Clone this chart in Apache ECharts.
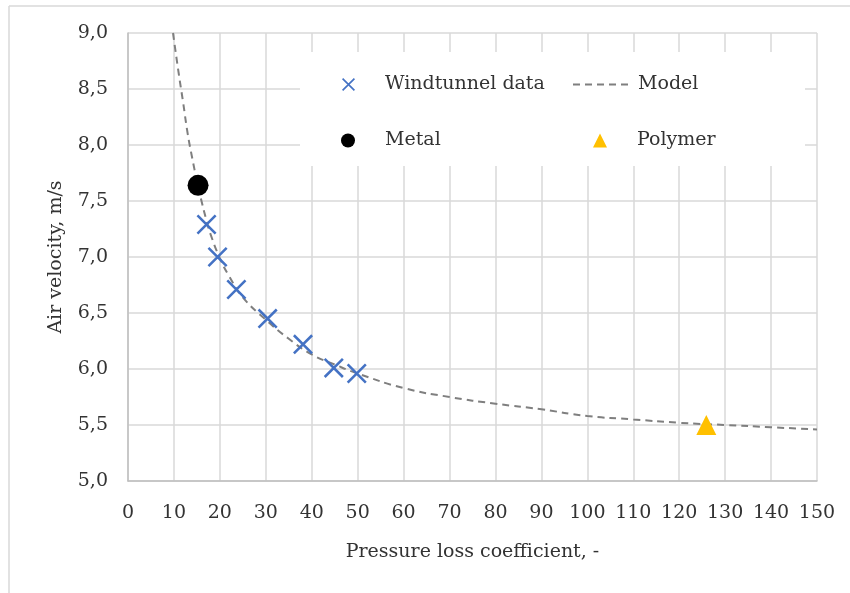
<!DOCTYPE html>
<html>
<head>
<meta charset="utf-8">
<title>Air velocity vs pressure loss coefficient</title>
<script src="https://cdn.jsdelivr.net/npm/echarts@6/dist/echarts.min.js"></script>
<style>
  html, body { margin: 0; padding: 0; background: #fff; }
  #main { width: 850px; height: 593px; }
</style>
</head>
<body>
<div id="main"></div>
<script>
// windtunnel measurements (x = pressure loss coefficient, y = air velocity)
var windX = [17.1, 19.5, 23.6, 30.4, 38.1, 44.8, 49.8];
var windY = [7.29, 7.00, 6.71, 6.45, 6.22, 6.01, 5.96];

// model curve
var modelX = [9.8, 11, 12, 13, 14, 15, 16, 17, 18, 20, 22, 25, 30, 35, 40, 45, 50, 60, 70, 80, 90, 100, 110, 120, 130, 140, 150];
var modelY = [9.0, 8.65, 8.38, 8.1, 7.88, 7.68, 7.5, 7.34, 7.2, 6.99, 6.83, 6.64, 6.44, 6.27, 6.13, 6.04, 5.96, 5.83, 5.75, 5.69, 5.64, 5.58, 5.55, 5.52, 5.5, 5.48, 5.46];

// single samples
var metalX = [15.25];
var metalY = [7.64];
var polymerX = [125.9];
var polymerY = [5.50];

// axis ticks
var xTicks = [0, 150, 10];
var yTicks = [5, 9, 0.5];

var legendNames = ['Windtunnel data', 'Model', 'Metal', 'Polymer'];

function pairs(xs, ys) {
  var out = [];
  for (var i = 0; i < xs.length; i++) {
    out.push([xs[i], ys[i]]);
  }
  return out;
}

var font = 'DejaVu Serif';
var textColor = '#333';
var fs = 19;
var crossPath = 'path://M0,0.9L0.9,0L10,9.1L9.1,10Z M9.1,0L10,0.9L0.9,10L0,9.1Z';

var myChart = echarts.init(document.getElementById('main'));

// one legend per item so the 2x2 layout lines up like the original
// left = icon left edge, textLeft = where the label starts
function legendAt(name, left, top, w, h, textLeft) {
  return {
    data: [name],
    left: left,
    top: top,
    padding: 0,
    itemWidth: w,
    itemHeight: h,
    selectedMode: false,
    z: 10,
    textStyle: {
      fontFamily: font, fontSize: fs, color: textColor,
      padding: [0, 0, 0, textLeft - (left + w + 5)]
    }
  };
}

var lgModel = legendAt(legendNames[1], 572, 75, 56, 14, 637);
lgModel.itemStyle = { opacity: 0 };

var option = {
  animation: false,
  backgroundColor: '#fff',
  grid: { left: 128, top: 33, right: 33, bottom: 112, containLabel: false },
  graphic: {
    elements: [
      // outer frame (top and left only)
      { type: 'line', shape: { x1: 9, y1: 6, x2: 850, y2: 6 }, style: { stroke: '#d9d9d9', lineWidth: 1.5 }, z: 1 },
      { type: 'line', shape: { x1: 9, y1: 6, x2: 9, y2: 593 }, style: { stroke: '#d9d9d9', lineWidth: 1.5 }, z: 1 },
      // white box behind the legend
      { type: 'rect', shape: { x: 300, y: 52, width: 505, height: 114 }, style: { fill: '#fff' }, z: 5 }
    ]
  },
  legend: [
    legendAt(legendNames[0], 342, 75, 13, 13, 385),
    lgModel,
    legendAt(legendNames[2], 341, 131, 14, 14, 385),
    legendAt(legendNames[3], 593, 131, 14, 14, 637)
  ],
  xAxis: {
    type: 'value',
    min: xTicks[0],
    max: xTicks[1],
    interval: xTicks[2],
    name: 'Pressure loss coefficient, -',
    nameLocation: 'middle',
    nameGap: 62,
    nameTextStyle: { fontFamily: font, fontSize: fs, color: textColor },
    axisLine: { show: true, lineStyle: { color: '#bfbfbf', width: 1.5 } },
    axisTick: { show: false },
    axisLabel: { margin: 23, fontFamily: font, fontSize: fs, color: textColor },
    splitLine: { show: true, lineStyle: { color: '#d9d9d9', width: 1.5 } }
  },
  yAxis: {
    type: 'value',
    min: yTicks[0],
    max: yTicks[1],
    interval: yTicks[2],
    name: 'Air velocity, m/s',
    nameLocation: 'middle',
    nameGap: 62,
    nameTextStyle: { fontFamily: font, fontSize: fs, color: textColor },
    axisLine: { show: true, lineStyle: { color: '#bfbfbf', width: 1.5 } },
    axisTick: { show: false },
    axisLabel: {
      margin: 20,
      fontFamily: font,
      fontSize: fs,
      color: textColor,
      formatter: function (v) { return v.toFixed(1).replace('.', ','); }
    },
    splitLine: { show: true, lineStyle: { color: '#d9d9d9', width: 1.5 } }
  },
  series: [
    {
      name: 'Model',
      type: 'line',
      data: pairs(modelX, modelY),
      smooth: true,
      showSymbol: false,
      symbol: 'none',
      z: 2,
      lineStyle: { color: '#7f7f7f', width: 2, type: [7, 5] },
      itemStyle: { color: '#7f7f7f' }
    },
    {
      name: 'Windtunnel data',
      type: 'scatter',
      data: pairs(windX, windY),
      symbol: crossPath,
      symbolSize: 20,
      z: 3,
      itemStyle: { color: '#4472c4', opacity: 1 }
    },
    {
      name: 'Metal',
      type: 'scatter',
      data: pairs(metalX, metalY),
      symbol: 'circle',
      symbolSize: 21,
      z: 3,
      itemStyle: { color: '#000', opacity: 1 }
    },
    {
      name: 'Polymer',
      type: 'scatter',
      data: pairs(polymerX, polymerY),
      symbol: 'triangle',
      symbolSize: 20,
      z: 3,
      itemStyle: { color: '#ffc000', opacity: 1 }
    }
  ]
};

myChart.setOption(option);
</script>
</body>
</html>
